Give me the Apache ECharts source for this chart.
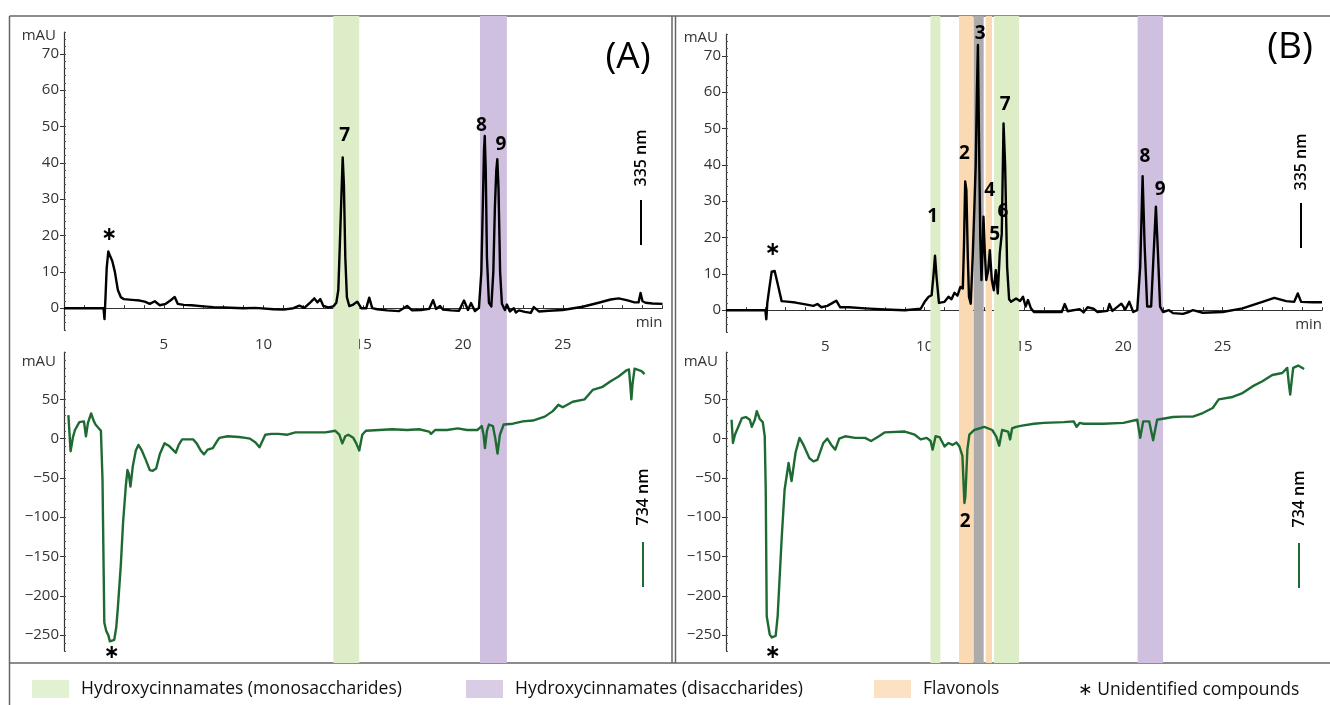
<!DOCTYPE html>
<html>
<head>
<meta charset="utf-8">
<script src="https://cdn.jsdelivr.net/npm/echarts@6/dist/echarts.min.js"></script>
<style>
html,body{margin:0;padding:0;background:#fff;}
#chart{width:1330px;height:705px;}
</style>
</head>
<body>
<div id="chart"></div>
<script>
// ---------- DATA ----------
var timeMin = 0, timeMax = 30;
var yTopTicks = [0, 10, 20, 30, 40, 50, 60, 70];
var yBottomTicks = [-250, -200, -150, -100, -50, 0, 50];
var xTickLabels = [5, 10, 15, 20, 25];

// Panel A, 335 nm (time min, mAU)
var traceA335 = [[0,0],[1.98,0],[2.03,-3],[2.08,3],[2.14,11],[2.22,15.6],[2.3,14.5],[2.42,13],[2.55,10],[2.7,5],[2.85,3],[3.0,2.5],[3.4,2.3],[3.8,2.1],[4.05,1.8],[4.3,1.2],[4.55,1.9],[4.8,0.8],[5.1,1.2],[5.35,2.2],[5.55,3.1],[5.7,1.2],[6.0,0.9],[6.4,0.8],[7.0,0.5],[7.5,0.3],[8.0,0.2],[9.0,0],[9.6,0.1],[10.5,-0.3],[11.0,-0.4],[11.5,0],[11.8,0.7],[12.05,0.1],[12.35,1.6],[12.55,2.7],[12.7,1.6],[12.85,2.5],[13.0,0.6],[13.25,0.2],[13.5,0.5],[13.65,1.5],[13.75,5],[13.83,18],[13.9,30],[13.97,41.5],[14.03,34],[14.1,14],[14.18,3],[14.3,0.6],[14.5,1],[14.7,1.8],[14.9,0],[15.15,0],[15.3,2.9],[15.45,0],[15.7,-0.3],[16.2,-0.6],[16.8,-0.8],[17.2,0.6],[17.45,-0.6],[17.9,-0.5],[18.3,-0.2],[18.5,2.2],[18.65,-0.2],[18.85,0.6],[19.0,-0.4],[19.4,-0.6],[19.8,-0.7],[20.05,2.1],[20.25,-0.5],[20.4,1.4],[20.6,-0.8],[20.8,0.1],[20.92,10],[21.0,30],[21.05,43],[21.09,47.4],[21.14,38],[21.2,14],[21.3,1.5],[21.42,0.5],[21.52,10],[21.6,28],[21.67,38],[21.72,41],[21.78,33],[21.86,10],[21.95,1.2],[22.1,-0.5],[22.2,1],[22.35,-0.9],[22.55,0],[22.65,-1.2],[22.8,-0.6],[23.1,-1],[23.4,-1.3],[23.55,0.3],[23.8,-0.9],[24.3,-0.7],[25,-0.5],[26,0.4],[26.8,1.5],[27.4,2.4],[27.8,2.7],[28.2,2.2],[28.6,1.6],[28.8,1.6],[28.9,4.2],[29.0,1.9],[29.15,1.5],[29.5,1.3],[30,1.2]];

// Panel A, 734 nm
var traceA734 = [[0.22,30],[0.33,-16],[0.45,2],[0.55,11],[0.77,21],[1.0,22],[1.1,3],[1.2,20],[1.36,32],[1.5,22],[1.58,18],[1.75,13],[1.85,10],[1.93,-52],[2.02,-234],[2.12,-245],[2.22,-250],[2.3,-258],[2.52,-256],[2.62,-240],[2.7,-215],[2.85,-160],[2.96,-107],[3.1,-60],[3.18,-40],[3.25,-45],[3.33,-61],[3.45,-35],[3.6,-15],[3.73,-8],[3.9,-15],[4.1,-27],[4.3,-40],[4.45,-41],[4.62,-38],[4.8,-20],[5.04,-6],[5.25,-9],[5.45,-14],[5.6,-18],[5.75,-8],[5.92,-1],[6.2,-1],[6.47,-1],[6.65,-6],[6.85,-15],[7.02,-20],[7.2,-14],[7.46,-12],[7.65,-4],[7.79,1],[8.2,3],[8.77,2],[9.1,1],[9.32,0],[9.6,-5],[9.8,-11],[10.09,5],[10.4,6],[10.75,6],[11.2,5],[11.6,8],[12.06,8],[12.6,8],[13.1,8],[13.6,10],[13.8,5],[13.95,-6],[14.1,3],[14.25,5],[14.5,1],[14.65,-6],[14.8,-15],[14.95,5],[15.13,10],[15.8,11],[16.45,12],[17.2,11],[17.8,12],[18.3,9],[18.4,6],[18.6,11],[19.2,11],[19.74,13],[20.2,11],[20.72,11],[20.94,16],[21.03,5],[21.1,-12],[21.2,10],[21.3,18],[21.5,16],[21.62,0],[21.73,-19],[21.85,5],[22.04,18],[22.5,19],[23.0,22],[23.5,23],[24.1,28],[24.5,35],[24.78,43],[25.0,40],[25.1,39],[25.5,47],[26.1,50],[26.5,62],[27.0,66],[27.4,73],[27.8,79],[28.2,87],[28.32,88],[28.38,70],[28.44,50],[28.5,70],[28.6,89],[28.95,86],[29.1,82]];

// Panel B, 335 nm
var traceB335 = [[0,0],[1.98,0],[2.03,-2.5],[2.08,2],[2.18,6],[2.3,10.6],[2.45,10.8],[2.6,7.3],[2.8,2.5],[3.2,2.3],[3.5,2.1],[4,1.6],[4.4,1.2],[4.6,1.7],[4.8,0.8],[5.1,1.2],[5.3,1.8],[5.55,2.6],[5.75,0.8],[6.2,0.8],[7,0.5],[8,0.2],[9,0],[9.8,0.4],[10.0,2.3],[10.2,3.7],[10.35,4.1],[10.45,10],[10.52,15],[10.6,9],[10.72,2],[11.0,2.3],[11.2,3.7],[11.35,3],[11.5,4.8],[11.65,4],[11.8,6.4],[11.92,6],[11.98,18],[12.04,35.4],[12.1,33],[12.17,15],[12.23,3.7],[12.32,1.8],[12.42,15],[12.5,28],[12.57,40],[12.63,60],[12.68,73],[12.74,45],[12.8,20],[12.86,8.3],[12.92,18],[12.96,25.7],[13.03,15.6],[13.1,8.3],[13.2,11],[13.28,16.5],[13.38,8.3],[13.48,5.5],[13.58,11],[13.68,4.6],[13.78,15.6],[13.88,21],[13.97,51.4],[14.05,40],[14.15,12],[14.25,3],[14.35,2.3],[14.6,3.2],[14.8,2.5],[14.95,3.7],[15.08,1],[15.2,2.8],[15.35,0.5],[15.5,-0.5],[16,-0.5],[16.9,-0.5],[17.05,1.7],[17.2,-0.3],[17.8,0.3],[18.0,-0.6],[18.2,0.8],[18.5,0.4],[18.7,-0.5],[19.2,-0.2],[19.3,1.7],[19.45,-0.2],[19.9,1.8],[20.1,0.2],[20.3,2.3],[20.5,-0.5],[20.7,0],[20.85,12],[20.97,36.9],[21.07,18],[21.2,1],[21.4,1],[21.52,15],[21.64,28.5],[21.74,16],[21.85,1],[22,-0.5],[22.3,0],[22.5,-0.8],[23,-1],[23.3,-0.5],[23.5,0],[24,-0.7],[25,-0.5],[26,0.5],[27,2.3],[27.6,3.4],[28.2,2.5],[28.6,2.3],[28.78,4.6],[28.95,2.3],[29.5,2.2],[30,2.2]];

// Panel B, 734 nm
var traceB734 = [[0.28,24],[0.35,-5.5],[0.45,5],[0.55,11],[0.8,26],[1.0,27.5],[1.2,24],[1.3,15],[1.45,24],[1.55,35],[1.7,25],[1.85,21],[1.95,3],[2.0,-65],[2.05,-226],[2.2,-249],[2.3,-253],[2.5,-251],[2.6,-226],[2.8,-128],[2.95,-65],[3.15,-31],[3.3,-54],[3.5,-18],[3.7,1],[3.9,-8],[4.2,-25],[4.4,-29],[4.6,-27],[4.9,-5.5],[5.1,0],[5.3,-8],[5.5,-14],[5.7,0],[6,3],[6.5,1],[7,1],[7.3,-3],[7.7,3],[8,8],[9,9],[9.5,5],[9.8,-1],[10.1,1],[10.3,-3],[10.4,-14],[10.55,3],[10.75,2],[11.0,-10],[11.2,-5.5],[11.4,-8],[11.6,-5],[11.75,-10],[11.9,-22],[12.0,-82],[12.05,-73],[12.15,-14],[12.25,5],[12.5,11],[13,15],[13.4,11],[13.6,3],[13.75,-9],[13.9,11],[14.2,9],[14.3,-1],[14.4,13],[14.6,15],[14.9,16.5],[15.5,19],[16,20],[17,21],[17.5,22],[17.65,15],[17.8,20],[18,19],[19,19],[20,20],[20.7,24],[20.85,1],[21.0,22],[21.3,22],[21.5,-2],[21.7,24],[22.5,27.5],[23,28],[23.5,28],[24,32.6],[24.5,39],[24.8,50],[25.5,53],[26,58],[26.5,66.5],[27,73],[27.5,81],[28,83.5],[28.25,90],[28.33,70],[28.4,56],[28.48,75],[28.55,90],[28.8,93],[29.1,88.6]];

// Peak annotations [time, value, text]
var peaksA335 = [[14.07,47.4,'7'],[20.93,50.2,'8'],[21.9,44.9,'9'],[2.27,20.2,'∗']];
var peaksA734 = [[2.39,-272,'∗']];
var peaksB335 = [[10.4,25.7,'1'],[12.0,43.2,'2'],[12.8,76,'3'],[13.27,33,'4'],[13.52,20.7,'5'],[13.94,27,'6'],[14.05,56.7,'7'],[21.09,42.2,'8'],[21.85,33.2,'9'],[2.35,16.7,'∗']];
var peaksB734 = [[12.04,-105.8,'2'],[2.35,-272,'∗']];

// Shaded compound-class bands [start, end] in minutes
var monoBandsA = [[13.5, 14.8]];
var diBandsA = [[20.85, 22.2]];
var monoBandsB = [[10.29, 10.79], [13.49, 14.75]];
var flavBandsB = [[11.73, 12.43], [13.07, 13.39]];
var greyBandsB = [[12.46, 12.97]];
var diBandsB = [[20.72, 22.0]];

var catMono = 'Hydroxycinnamates (monosaccharides)';
var catDi = 'Hydroxycinnamates (disaccharides)';
var catFlav = 'Flavonols';

// ---------- STYLE ----------
var FONT = "'Open Sans', 'DejaVu Sans', sans-serif";
var colMono = '#dcedc8', colDi = '#d0c0e0', colFlav = '#fbd9b3', colGrey = '#ababab';
var colBlack = '#000000', colGreen = '#1d6b32';

var chart = echarts.init(document.getElementById('chart'), null, {renderer: 'canvas'});

var gridA = {left: 64, width: 598.5};
var gridB = {left: 726, width: 596};
var topT = 32, topH = 298, botT = 352.2, botH = 298.6;

function minusFmt(v) { return String(v).replace('-', '\u2212'); }

function xAxisMain(gi) {
  return {
    type: 'value', gridIndex: gi, min: timeMin, max: timeMax, interval: 1,
    axisLine: {show: true, lineStyle: {color: '#333', width: 1.2}},
    axisTick: {show: true, inside: true, length: 3, lineStyle: {color: '#333'}},
    axisLabel: {
      margin: 7, color: '#333', fontFamily: FONT, fontSize: 15,
      formatter: function (v) { return xTickLabels.indexOf(v) >= 0 ? String(v) : ''; }
    },
    splitLine: {show: false},
    name: 'min', nameLocation: 'end', nameGap: 0,
    nameTextStyle: {align: 'right', verticalAlign: 'top', padding: [7, 0, 0, 0], color: '#333', fontFamily: FONT, fontSize: 15}
  };
}
function xAxisHidden(gi) {
  return {type: 'value', gridIndex: gi, min: timeMin, max: timeMax, show: false};
}
function yMajor(gi, mn, mx, ticks, nameGap) {
  return {
    type: 'value', gridIndex: gi, min: mn, max: mx, position: 'left',
    axisLine: {show: true, lineStyle: {color: '#333', width: 1.2}},
    axisTick: {show: true, length: 4, customValues: ticks, lineStyle: {color: '#333'}},
    axisLabel: {customValues: ticks, margin: 5, color: '#333', fontFamily: FONT, fontSize: 15, formatter: minusFmt},
    splitLine: {show: false},
    name: 'mAU', nameLocation: 'end', nameGap: nameGap,
    nameTextStyle: {align: 'right', verticalAlign: 'middle', padding: [0, 8, 0, 0], color: '#333', fontFamily: FONT, fontSize: 15}
  };
}
function yMinor(gi, mn, mx, step) {
  return {
    type: 'value', gridIndex: gi, min: mn, max: mx, interval: step, position: 'left', offset: 0,
    axisLine: {show: false},
    axisTick: {show: true, inside: true, length: 2, lineStyle: {color: '#555'}},
    axisLabel: {show: false}, splitLine: {show: false}
  };
}

function bandSeries(name, color, bands, xi, yi) {
  return {
    name: name, type: 'scatter', data: [], xAxisIndex: xi, yAxisIndex: yi, z: -1,
    itemStyle: {color: color}, silent: true,
    markArea: {
      silent: true, itemStyle: {color: color, opacity: 1}, label: {show: false},
      emphasis: {disabled: true},
      data: bands.map(function (b) { return [{xAxis: b[0]}, {xAxis: b[1]}]; })
    }
  };
}
function traceSeries(name, data, color, xi, yi) {
  return {
    name: name, type: 'line', data: data, xAxisIndex: xi, yAxisIndex: yi,
    showSymbol: false, symbol: 'none', smooth: false, z: 3,
    lineStyle: {color: color, width: 2.4, join: 'round'}, itemStyle: {color: color}, silent: true
  };
}
function labelSeries(data, xi, yi) {
  return {
    type: 'scatter', data: data, xAxisIndex: xi, yAxisIndex: yi, symbol: 'circle', symbolSize: 0.01, clip: false, z: 5,
    itemStyle: {color: '#000'}, silent: true,
    label: {
      show: true, position: 'inside', color: '#000', opacity: 1, textBorderWidth: 0, fontFamily: FONT, fontSize: 19, fontWeight: 'bold',
      formatter: function (p) { return p.data[2]; }
    }
  };
}

var legendBase = {
  orient: 'horizontal', padding: 0, itemWidth: 37, itemHeight: 18, icon: 'rect',
  selectedMode: false, top: 680,
  textStyle: {fontFamily: FONT, fontSize: 17.5, color: '#111', padding: [0, 0, 0, 7]}
};

var border = {stroke: '#666', lineWidth: 1.5};
var nmFont = '600 16px ' + FONT;
var option = {
  animation: false,
  backgroundColor: '#ffffff',
  grid: [
    {left: gridA.left, width: gridA.width, top: topT, height: topH},
    {left: gridA.left, width: gridA.width, top: botT, height: botH},
    {left: gridB.left, width: gridB.width, top: topT + 2, height: topH},
    {left: gridB.left, width: gridB.width, top: botT, height: botH},
    {left: gridA.left, width: gridA.width, top: 16, height: 647},
    {left: gridB.left, width: gridB.width, top: 16, height: 647}
  ],
  xAxis: [xAxisMain(0), xAxisHidden(1), xAxisMain(2), xAxisHidden(3), xAxisHidden(4), xAxisHidden(5)],
  yAxis: [
    yMajor(0, -6, 76, yTopTicks, -4), yMinor(0, -6, 76, 2),
    yMajor(1, -270, 110, yBottomTicks, -10), yMinor(1, -270, 110, 10),
    yMajor(2, -6, 76, yTopTicks, -4), yMinor(2, -6, 76, 2),
    yMajor(3, -270, 110, yBottomTicks, -10), yMinor(3, -270, 110, 10),
    {type: 'value', gridIndex: 4, min: 0, max: 1, show: false},
    {type: 'value', gridIndex: 5, min: 0, max: 1, show: false}
  ],
  legend: [
    Object.assign({}, legendBase, {left: 32, data: [catMono]}),
    Object.assign({}, legendBase, {left: 466, data: [catDi]}),
    Object.assign({}, legendBase, {left: 874, data: [catFlav]})
  ],
  series: [
    bandSeries(catMono, colMono, monoBandsA, 4, 8),
    bandSeries(catDi, colDi, diBandsA, 4, 8),
    bandSeries(catMono, colMono, monoBandsB, 5, 9),
    bandSeries(catFlav, colFlav, flavBandsB, 5, 9),
    bandSeries('overlap', colGrey, greyBandsB, 5, 9),
    bandSeries(catDi, colDi, diBandsB, 5, 9),
    traceSeries('A 335 nm', traceA335, colBlack, 0, 0),
    traceSeries('A 734 nm', traceA734, colGreen, 1, 2),
    traceSeries('B 335 nm', traceB335, colBlack, 2, 4),
    traceSeries('B 734 nm', traceB734, colGreen, 3, 6),
    labelSeries(peaksA335, 0, 0),
    labelSeries(peaksA734, 1, 2),
    labelSeries(peaksB335, 2, 4),
    labelSeries(peaksB734, 3, 6)
  ],
  graphic: [
    {type: 'line', shape: {x1: 9.5, y1: 16, x2: 1330, y2: 16}, style: border, silent: true},
    {type: 'line', shape: {x1: 9.5, y1: 16, x2: 9.5, y2: 705}, style: border, silent: true},
    {type: 'line', shape: {x1: 672, y1: 16, x2: 672, y2: 663}, style: border, silent: true},
    {type: 'line', shape: {x1: 675.5, y1: 16, x2: 675.5, y2: 663}, style: border, silent: true},
    {type: 'line', shape: {x1: 9.5, y1: 663, x2: 1330, y2: 663}, style: border, silent: true},
    {type: 'text', x: 628, y: 57, style: {text: '(A)', font: '37px ' + FONT, fill: '#000', textAlign: 'center', textVerticalAlign: 'middle'}},
    {type: 'text', x: 1290, y: 47, style: {text: '(B)', font: '37px ' + FONT, fill: '#000', textAlign: 'center', textVerticalAlign: 'middle'}},
    {type: 'text', x: 641, y: 158, rotation: Math.PI / 2, style: {text: '335 nm', font: nmFont, fill: '#000', textAlign: 'center', textVerticalAlign: 'middle'}},
    {type: 'line', shape: {x1: 641, y1: 200, x2: 641, y2: 245}, style: {stroke: '#000', lineWidth: 2}},
    {type: 'text', x: 1301, y: 162, rotation: Math.PI / 2, style: {text: '335 nm', font: nmFont, fill: '#000', textAlign: 'center', textVerticalAlign: 'middle'}},
    {type: 'line', shape: {x1: 1301, y1: 203, x2: 1301, y2: 248}, style: {stroke: '#000', lineWidth: 2}},
    {type: 'text', x: 643, y: 497, rotation: Math.PI / 2, style: {text: '734 nm', font: nmFont, fill: '#000', textAlign: 'center', textVerticalAlign: 'middle'}},
    {type: 'line', shape: {x1: 643, y1: 542, x2: 643, y2: 587}, style: {stroke: colGreen, lineWidth: 2}},
    {type: 'text', x: 1299, y: 499, rotation: Math.PI / 2, style: {text: '734 nm', font: nmFont, fill: '#000', textAlign: 'center', textVerticalAlign: 'middle'}},
    {type: 'line', shape: {x1: 1299, y1: 543, x2: 1299, y2: 588}, style: {stroke: colGreen, lineWidth: 2}},
    {type: 'text', x: 1078, y: 690, style: {text: '\u2217 Unidentified compounds', font: '17.5px ' + FONT, fill: '#111', textAlign: 'left', textVerticalAlign: 'middle'}}
  ]
};
chart.setOption(option);
</script>
</body>
</html>
